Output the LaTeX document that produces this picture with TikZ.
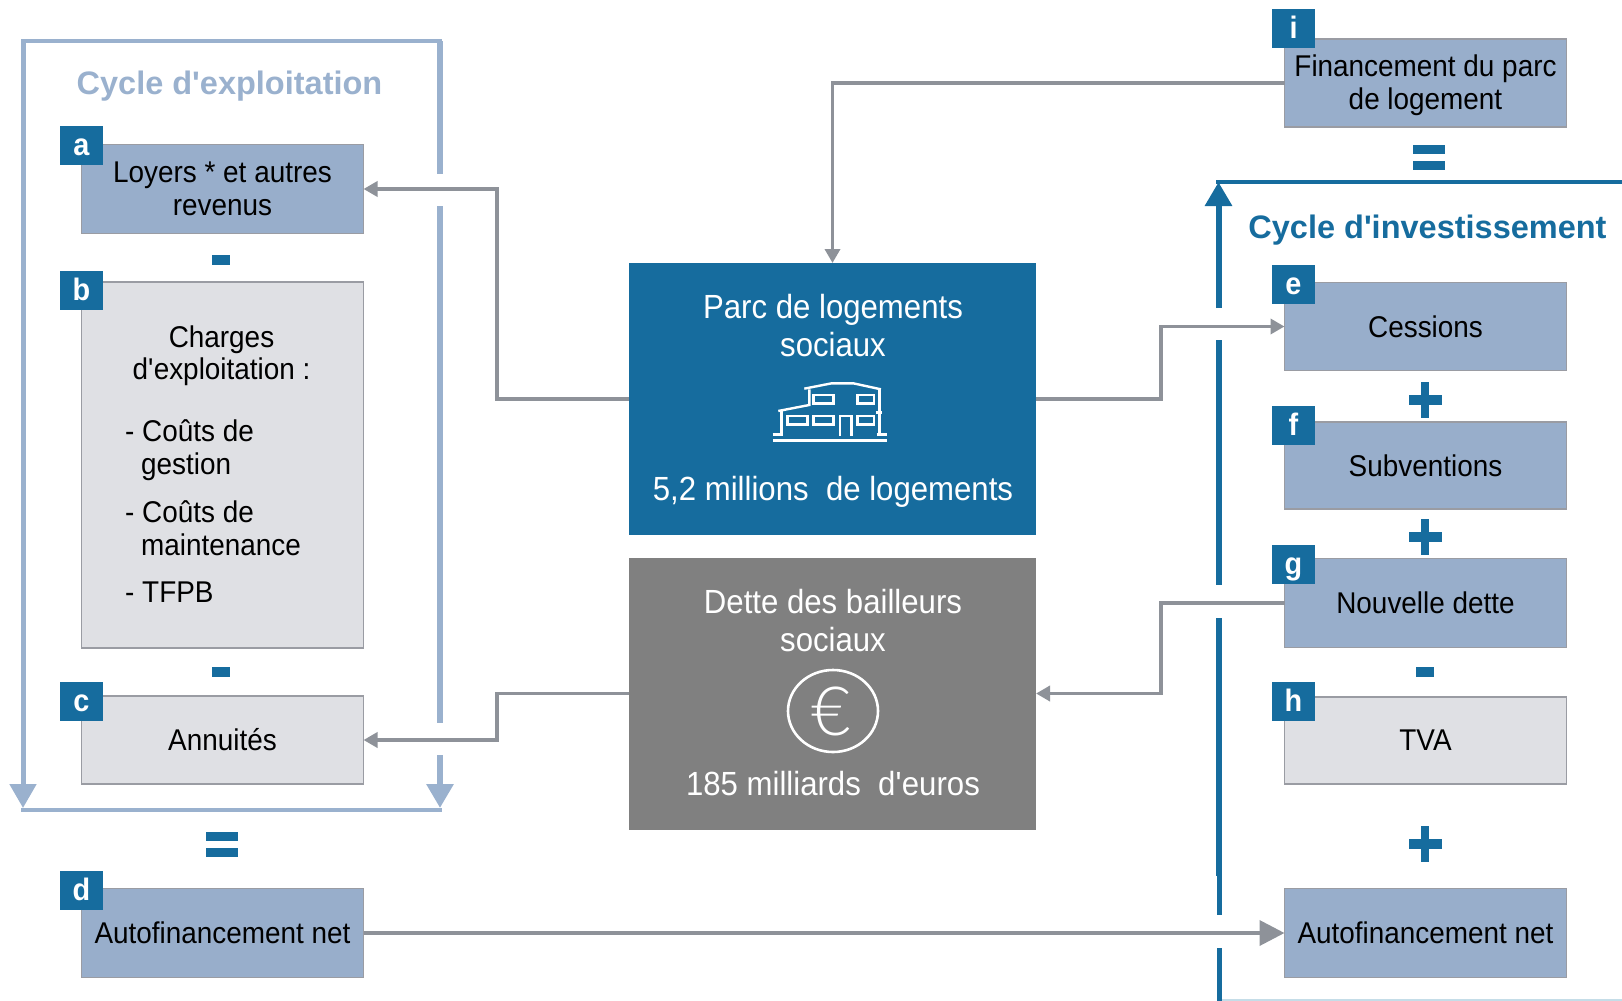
\documentclass[tikz,border=0pt]{standalone}
\usepackage{fontspec}
\setmainfont[FakeStretch=0.93]{Liberation Sans}
\newfontfamily\titlefont{Liberation Sans}
\newfontfamily\eurofont{Lato Light}
\usetikzlibrary{arrows.meta}
\definecolor{cblue}{HTML}{166C9E}
\definecolor{clight}{HTML}{98AECB}
\definecolor{cpale}{HTML}{DFE0E4}
\definecolor{cedge}{HTML}{9A9CA3}
\definecolor{cdark}{HTML}{808080}
\definecolor{cconn}{HTML}{8E9299}
\definecolor{cframe}{HTML}{9AB1CE}
\definecolor{cbottom}{HTML}{C5DDE8}
\tikzset{
  boxbase/.style={rectangle,draw=cedge,line width=1.5pt,minimum width=282pt,outer sep=0pt,inner sep=0pt,align=center,text=black,font=\fontsize{30}{33}\selectfont},
  lightbox/.style={boxbase,fill=clight},
  palebox/.style={boxbase,fill=cpale},
  bigbox/.style={rectangle,minimum width=407pt,minimum height=272pt,outer sep=0pt},
  badge/.style={rectangle,fill=cblue,minimum width=43pt,minimum height=39pt,inner sep=0pt,outer sep=0pt,text=white,text height=20pt,text depth=0pt,font=\fontsize{31}{31}\selectfont\bfseries},
  bigtext/.style={text=white,align=center,inner sep=0pt,font=\fontsize{33.5}{38}\selectfont},
  listtext/.style={text=black,align=left,anchor=base west,inner sep=0pt,font=\fontsize{30}{33}\selectfont},
  conn/.style={draw=cconn,line width=3.8pt},
  tipsmall/.style={-{Triangle[length=14pt,width=15pt]}},
  tipbig/.style={-{Triangle[length=25pt,width=25pt]}},
  frameL/.style={draw=cframe,line width=5pt},
  frameR/.style={draw=cblue,line width=6pt},
  tipframe/.style={-{Triangle[length=24pt,width=26pt]}},
  icon/.style={draw=white,line width=2.4pt},
}
\newcommand{\opminus}[2]{\fill[cblue] (#1-9,#2-5) rectangle (#1+9,#2+5);}
\newcommand{\opplus}[2]{\fill[cblue] (#1-16.5,#2-5) rectangle (#1+16.5,#2+5); \fill[cblue] (#1-4,#2-18) rectangle (#1+4,#2+18);}
\newcommand{\opequal}[2]{\fill[cblue] (#1-16,#2-12.5) rectangle (#1+16,#2-3.5); \fill[cblue] (#1-16,#2+3) rectangle (#1+16,#2+12);}
\begin{document}
\begin{tikzpicture}[x=1pt,y=-1pt]
\useasboundingbox (0,0) rectangle (1622,1001);

% left frame
\draw[frameL,line width=4pt] (21,41) -- (442,41);
\draw[frameL,tipframe] (23,41) -- (23,808);
\draw[frameL,line width=4pt] (21,809.5) -- (442,809.5);
\draw[frameL,line width=6pt] (440,41) -- (440,174);
\draw[frameL,line width=6pt] (440,206) -- (440,723);
\draw[frameL,line width=6pt,tipframe] (440,755) -- (440,808);

% right frame
\draw[cblue,line width=4pt] (1216,182) -- (1622,182);
\draw[frameR,tipframe] (1218.5,308) -- (1218.5,182);
\draw[frameR] (1218.5,340) -- (1218.5,585);
\draw[frameR] (1218.5,618) -- (1218.5,876);
\draw[cblue,line width=4.5pt] (1219.7,876) -- (1219.7,915);
\draw[cblue,line width=4.5pt] (1219.7,948) -- (1219.7,1001);
\draw[cbottom,line width=1.5pt] (1222,1000) -- (1622,1000);

% boxes
\node[lightbox,minimum height=89pt] (a) at (222.5,189) {Loyers * et autres\\revenus};
\node[palebox,minimum height=366pt] (b) at (222.5,465) {};
\node[palebox,minimum height=88pt] (c) at (222.5,740) {Annuités};
\node[lightbox,minimum height=89pt] (d) at (222.5,933) {Autofinancement net};
\node[lightbox,minimum height=88pt] (i) at (1425.5,83) {};
\node[lightbox,minimum height=88pt] (e) at (1425.5,326.5) {Cessions};
\node[lightbox,minimum height=87pt] (f) at (1425.5,465.5) {Subventions};
\node[lightbox,minimum height=89pt] (g) at (1425.5,603) {Nouvelle dette};
\node[palebox,minimum height=87pt] (h) at (1425.5,740.5) {TVA};
\node[lightbox,minimum height=89pt] (k) at (1425.5,933) {Autofinancement net};
\node[bigbox,fill=cblue] (parc) at (832.5,399) {};
\node[bigbox,fill=cdark] (dette) at (832.5,693.5) {};
\node[inner sep=0pt,align=center,text=black,font=\fontsize{30}{33}\selectfont] (itext) at (1425.5,85) {Financement du parc\\de logement};

% connectors
\coordinate (jl) at (497,0);
\coordinate (jr) at (1161,0);
\draw[conn,tipsmall] (i.west) -| (parc.north);
\draw[conn,tipsmall] (parc.west) -- (parc.west -| jl) -- (a.east -| jl) -- (a.east);
\draw[conn,tipsmall] (parc.east) -- (parc.east -| jr) -- (e.west -| jr) -- (e.west);
\draw[conn,tipsmall] (dette.west) -- (dette.west -| jl) -- (c.east -| jl) -- (c.east);
\draw[conn,tipsmall] (g.west) -- (g.west -| jr) -- (dette.east -| jr) -- (dette.east);
\draw[conn,tipbig] (d.east) -- (k.west);

% badges
\node[badge] (ba) at (81.5,145.5) {a};
\node[badge] (bb) at (81.5,290) {b};
\node[badge] (bc) at (81.5,701.5) {c};
\node[badge] (bd) at (81.5,890.5) {d};
\node[badge] (bi) at (1293.5,28.5) {i};
\node[badge] (be) at (1293.5,284.5) {e};
\node[badge] (bf) at (1293.5,425.5) {f};
\node[badge] (bg) at (1293.5,564.5) {g};
\node[badge] (bh) at (1293.5,701.5) {h};

% titles
\node[text=cframe,inner sep=0pt,font=\titlefont\fontsize{32.5}{36}\selectfont\bfseries] (t1) at (229.5,86) {Cycle d\textquotesingle exploitation};
\node[text=cblue,inner sep=0pt,font=\titlefont\fontsize{32.5}{36}\selectfont\bfseries] (t2) at (1427.5,230) {Cycle d\textquotesingle investissement};

% charges text
\node[text=black,align=center,anchor=base,inner sep=0pt,font=\fontsize{30}{32}\selectfont] (b0) at (221.5,379) {Charges\\d\textquotesingle exploitation :};
\node[listtext] (b1) at (125,474.5) {- Coûts de\\\hspace*{16pt}gestion};
\node[listtext] (b2) at (125,555.5) {- Coûts de\\\hspace*{16pt}maintenance};
\node[listtext] (b3) at (125,602.5) {- TFPB};

% big box text
\node[bigtext] (p1) at (833,325.5) {Parc de logements\\sociaux};
\node[bigtext] (p2) at (833,492) {5,2 millions\ \ de logements};
\node[bigtext] (d1) at (833,620.5) {Dette des bailleurs\\sociaux};
\node[bigtext] (d2) at (833,784) {185 milliards\ \ d\textquotesingle euros};

% house icon
\begin{scope}[shift={(620,250)},x=0.3333pt,y=-0.3333pt]
\draw[icon,line join=round] (553,416) -- (635,400) -- (700,400) -- (783,418);
\draw[icon] (568,418) -- (568,465) -- (475,483);
\draw[icon] (778,418) -- (778,556);
\draw[icon] (485,480) -- (485,556);
\draw[icon] (458,553) -- (490,553);
\draw[icon] (770,553) -- (800,553);
\draw[icon] (768,488) -- (785,488);
\draw[icon] (660,558) -- (660,498) -- (695,498) -- (695,558);
\draw[icon] (580,435) rectangle (640,460);
\draw[icon] (712,435) rectangle (762,460);
\draw[icon] (503,498) rectangle (562,524);
\draw[icon] (580,498) rectangle (640,524);
\draw[icon] (712,498) rectangle (762,524);
\draw[icon,line width=3pt] (459,571) -- (801,571);
\end{scope}

% euro icon
\draw[white,line width=2.6pt] (833,711) ellipse [x radius=45,y radius=41];
\node[inner sep=0pt,text=white,font=\eurofont\fontsize{68}{68}\selectfont] (euro) at (831,711) {€};

% operators
\opminus{221}{260}
\opminus{221}{672}
\opminus{1425}{672}
\opequal{221.5}{844.5}
\opequal{1429}{157.5}
\opplus{1425}{400}
\opplus{1425}{537}
\opplus{1425}{844}
\end{tikzpicture}
\end{document}
